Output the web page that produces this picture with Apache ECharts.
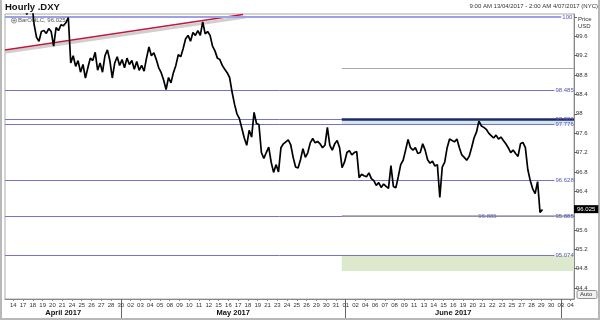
<!DOCTYPE html>
<html><head><meta charset="utf-8">
<script src="https://cdn.jsdelivr.net/npm/echarts@6/dist/echarts.min.js"></script>
<style>html,body{margin:0;padding:0;background:#fff}#c{width:600px;height:320px}</style>
</head><body><div id="c"></div>
<script>
// ---- data ----
const dayLabels = ['','14','17','18','19','20','21','24','25','26','27','28','30',
  '02','03','04','05','08','09','10','11','12','15','16','17','18','19','21','23','24','25','26','29','30','31',
  '01','02','04','06','07','08','09','11','13','14','15','16','19','20','21','22','23','25','27','28','29','30',
  '03','04'];
const monthNames = ['April 2017','May 2017','June 2017'];
const monthMid = [6.1, 23.5, 46.0];
const monthStart = [12, 35, 57];
const yTickLabels = [94.4,94.8,95.2,95.6,96.4,96.8,97.2,97.6,98,98.4,98.8,99.2,99.6];
const yTickMarks = [94.4,94.8,95.2,95.6,96,96.4,96.8,97.2,97.6,98,98.4,98.8,99.2,99.6,100];
// price, 4 readings per trading day (6-hour steps)
const price = [
  100.5,100.6,100.45,100.55,  100.5,100.4,100.55,100.45,  100.3,100.05,100.2,100.35,
  99.85,99.58,99.5,99.7,  99.72,99.66,99.76,99.7,  99.4,99.78,99.72,99.84,  99.82,99.88,99.99,99.05,
  99.2,98.98,99.1,98.86,  99.02,98.74,98.95,99.15,  99.1,99.27,98.9,99.05,  98.86,99.2,99.32,99.1,
  98.74,99.05,99.18,99.0,  99.12,98.95,99.15,99.02,  99.1,98.92,99.08,98.9,  99.0,98.88,99.15,99.38,
  99.2,99.26,99.12,98.95,  98.85,98.7,98.5,98.75,  98.64,98.85,99.0,99.22,  99.18,99.35,99.55,99.62,
  99.5,99.68,99.62,99.72,  99.62,99.9,99.65,99.7,  99.62,99.4,99.3,99.15,  99.12,99.0,98.92,98.85,
  98.75,98.45,98.2,98.0,  97.9,97.7,97.5,97.35,  97.66,97.52,98.03,97.8,  97.78,97.2,97.08,97.2,
  97.31,97.0,96.79,96.95,  96.8,97.3,97.38,97.42,  97.46,97.36,97.1,96.9,  96.88,97.05,97.28,97.1,
  97.2,97.4,97.49,97.4,  97.43,97.38,97.3,97.35,  97.72,97.35,97.25,97.38,  97.45,97.3,96.89,97.0,
  97.2,97.24,97.15,97.2,  97.22,96.68,96.75,96.72,  96.7,96.78,96.66,96.62,  96.52,96.58,96.48,96.55,
  96.5,96.46,96.93,96.5,  96.47,96.7,96.95,97.04,  97.25,97.47,97.3,97.25,  97.3,97.18,97.2,97.38,
  97.25,97.05,96.98,97.02,  96.92,96.95,96.27,96.9,  97.0,97.3,97.48,97.45,  97.42,97.48,97.3,97.15,
  97.1,97.04,97.12,97.3,  97.5,97.62,97.85,97.75,  97.72,97.68,97.6,97.55,  97.5,97.56,97.48,97.52,
  97.45,97.38,97.3,97.2,  97.25,97.18,97.12,97.38,  97.41,97.3,96.85,96.62,  96.45,96.35,96.6,95.96,
  96.025
];
const lastPrice = 96.025;
const levels = [100, 98.485, 97.881, 97.776, 96.628, 95.885, 95.074];
const levelLabels = ['100','98.485','97.881','97.776','96.628','95.885','95.074'];
const trendRed = [[0.15, 99.32],[24.5, 100.05]];
const trendShadow = [[0.15, 99.27],[24.75, 100.0]];
const zoneStart = 34.6;
const navyLevel = 97.881;
const blueBand = [97.776, 97.881];
const greenBand = [94.75, 95.074];
const grayLevels = [98.94, 95.885];
const midLabel = [[49.5, 95.885]];

// ---- chart ----
const FONT = 'Liberation Sans, Arial, sans-serif';
const X0 = 0.15, X1 = 58.35;
const BLUE = '#7474cc', BLUE_T = '#5656b0';
const CLEAR = 'rgba(0,0,0,0)';
const priceData = price.map((v, i) => [Math.floor(i / 4) + ((i % 4) + 0.5) / 4, v]);
const chart = echarts.init(document.getElementById('c'), null, {renderer: 'canvas'});

const levelLines = levels.map((v, i) => {
  const txt = levelLabels[i];
  const end = txt.length > 3 ? 56.35 : 57.05;
  const top = i === 0;
  return [
    {coord: [X0, v], lineStyle: {color: top ? '#a0a0e4' : BLUE, width: top ? 2 : 1, type: 'solid'},
     label: {show: true, position: 'end', distance: 1, formatter: txt, color: BLUE_T, fontSize: 6, fontFamily: FONT}},
    {coord: [end, v]}
  ];
});

const option = {
  animation: false,
  grid: {left: 5, right: 26, top: 14, bottom: 21, show: true, borderColor: '#aaa', borderWidth: 1},
  xAxis: [{
    type: 'value', min: X0, max: X1, position: 'bottom',
    axisLine: {show: true, lineStyle: {color: '#888'}},
    axisTick: {show: true, customValues: dayLabels.map((_, i) => i).slice(1), length: 2, lineStyle: {color: '#888'}},
    axisLabel: {customValues: dayLabels.map((_, i) => i).slice(1), formatter: v => dayLabels[Math.round(v)],
      fontSize: 6, margin: 3, color: '#333', fontFamily: FONT, hideOverlap: false},
    splitLine: {show: false}
  }, {
    type: 'value', min: X0, max: X1, position: 'bottom',
    axisLine: {show: false},
    axisTick: {show: true, customValues: monthStart, length: 19, lineStyle: {color: '#666'}},
    axisLabel: {customValues: monthMid, formatter: v => {
        let k = 0; monthMid.forEach((m, j) => { if (Math.abs(m - v) < Math.abs(monthMid[k] - v)) k = j; });
        return monthNames[k]; },
      fontSize: 7.5, fontWeight: 'bold', margin: 10, color: '#111', fontFamily: FONT},
    splitLine: {show: false}
  }],
  yAxis: {
    type: 'value', min: 94.174, max: 100.062, position: 'right',
    axisLine: {show: true, lineStyle: {color: '#888'}},
    axisTick: {show: true, customValues: yTickMarks, length: 3, lineStyle: {color: '#666'}},
    axisLabel: {customValues: yTickLabels, formatter: v => String(v), fontSize: 6, margin: 2, color: '#333', fontFamily: FONT},
    splitLine: {show: false}
  },
  series: [
    {
      type: 'line', data: [], z: 2, silent: true,
      markLine: {symbol: ['none', 'none'], silent: true, data: levelLines, animation: false},
      markArea: {silent: true, data: [
        [{coord: [zoneStart, blueBand[1]], itemStyle: {color: '#d3e6f0'}}, {coord: [X1, blueBand[0]]}],
        [{coord: [zoneStart, greenBand[1]], itemStyle: {color: '#dce9cd'}}, {coord: [X1, greenBand[0]]}]
      ]}
    },
    {
      type: 'line', data: [], z: 3, silent: true,
      markLine: {symbol: ['none', 'none'], silent: true, label: {show: false}, data: [
        [{coord: [zoneStart, navyLevel], lineStyle: {color: '#1e2b66', width: 2.5, type: 'solid'}}, {coord: [X1, navyLevel]}],
        [{coord: [zoneStart, grayLevels[0]], lineStyle: {color: '#a8a8a8', width: 1, type: 'solid'}}, {coord: [X1, grayLevels[0]]}],
        [{coord: [zoneStart, grayLevels[1]], lineStyle: {color: '#9c9c9c', width: 1.6, type: 'solid'}}, {coord: [X1, grayLevels[1]]}]
      ]}
    },
    {type: 'line', data: trendShadow, symbol: 'none', z: 3, silent: true, lineStyle: {color: '#cfcfcf', width: 3}},
    {type: 'line', data: trendRed, symbol: 'none', z: 4, silent: true, lineStyle: {color: '#c0183a', width: 1.5}},
    {type: 'scatter', data: midLabel, symbolSize: 2, itemStyle: {color: CLEAR}, z: 5, silent: true,
      label: {show: true, position: 'inside', formatter: '95.885', color: BLUE_T, fontSize: 6, fontFamily: FONT}},
    {
      type: 'line', data: priceData, symbol: 'none', z: 6, silent: true,
      lineStyle: {color: '#000', width: 1.7},
      markLine: {symbol: ['none', 'none'], silent: true, data: [
        {yAxis: lastPrice, lineStyle: {color: CLEAR, width: 0.1, type: 'solid'},
         label: {show: true, position: 'end', distance: 0, formatter: String(lastPrice), color: '#fff',
           backgroundColor: '#000', padding: [1, 3, 1, 3], fontSize: 6, fontFamily: FONT}}
      ]}
    }
  ],
  graphic: [
    {type: 'text', left: 5, top: 2.5, style: {text: 'Hourly .DXY', font: 'bold 9.5px ' + FONT, fill: '#111'}},
    {type: 'text', right: 2, top: 3.5, style: {text: '9:00 AM 13/04/2017 - 2:00 AM 4/07/2017 (NYC)', font: '6px ' + FONT, fill: '#333'}},
    {type: 'text', left: 578, top: 16, style: {text: 'Price', font: '6px ' + FONT, fill: '#333'}},
    {type: 'text', left: 578, top: 23.5, style: {text: 'USD', font: '6px ' + FONT, fill: '#333'}},
    {type: 'circle', shape: {cx: 14, cy: 20.5, r: 2.6}, style: {fill: 'none', stroke: '#777', lineWidth: 0.8}},
    {type: 'line', shape: {x1: 12.4, y1: 20.5, x2: 15.6, y2: 20.5}, style: {stroke: '#777', lineWidth: 0.8}},
    {type: 'line', shape: {x1: 14, y1: 18.9, x2: 14, y2: 22.1}, style: {stroke: '#777', lineWidth: 0.8}},
    {type: 'text', left: 18, top: 17.5, style: {text: 'BarOHLC, ' + String(lastPrice), font: '6px ' + FONT, fill: '#555'}},
    {type: 'rect', shape: {x: 577, y: 290.5, width: 20, height: 8, r: 1.5}, style: {fill: '#f2f2f2', stroke: '#777', lineWidth: 0.8}},
    {type: 'text', left: 580, top: 291.5, style: {text: 'Auto', font: '6px ' + FONT, fill: '#333'}},
    {type: 'line', shape: {x1: 1, y1: 0, x2: 1, y2: 320}, style: {stroke: '#b8b8b8', lineWidth: 2}},
    {type: 'line', shape: {x1: 599, y1: 0, x2: 599, y2: 320}, style: {stroke: '#b8b8b8', lineWidth: 2}},
    {type: 'line', shape: {x1: 0, y1: 319, x2: 600, y2: 319}, style: {stroke: '#b8b8b8', lineWidth: 2}}
  ]
};
chart.setOption(option);
</script>
</body></html>
